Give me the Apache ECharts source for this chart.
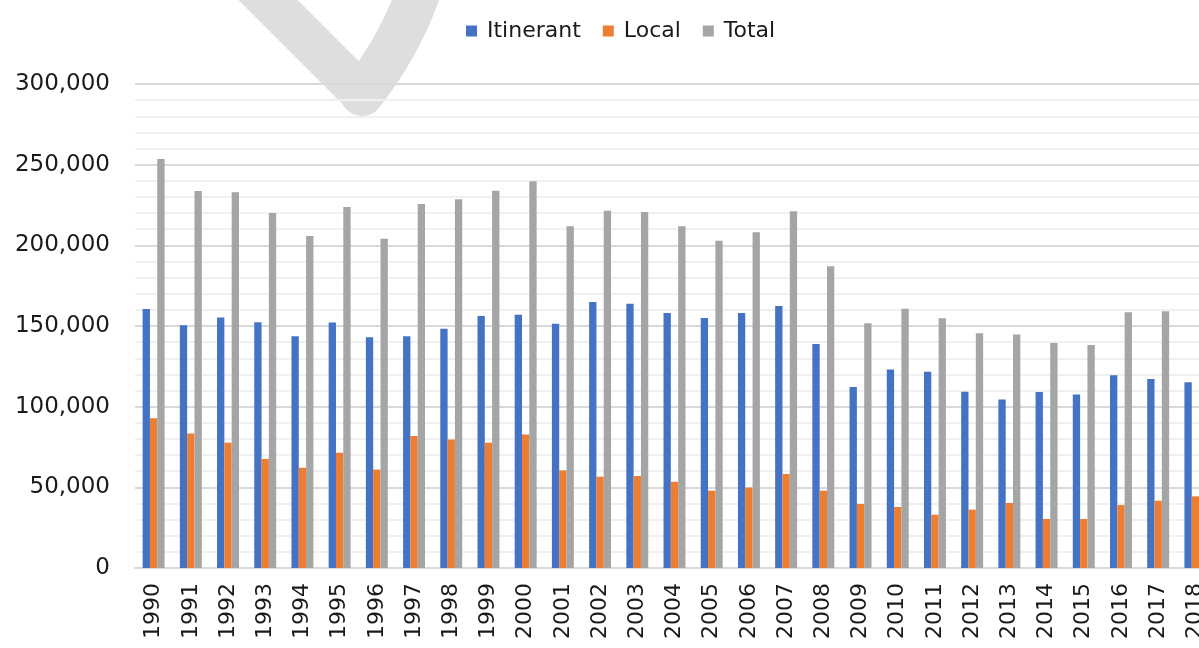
<!DOCTYPE html>
<html>
<head>
<meta charset="utf-8">
<title>Itinerant / Local / Total</title>
<script src="https://cdn.jsdelivr.net/npm/echarts@6/dist/echarts.min.js"></script>
<style>
  html, body { margin: 0; padding: 0; background: #fff; }
  #chart { width: 1199px; height: 648px; }
</style>
</head>
<body>
<div id="chart"></div>
<script>
// values
const years = ['1990', '1991', '1992', '1993', '1994', '1995', '1996', '1997', '1998', '1999',
  '2000', '2001', '2002', '2003', '2004', '2005', '2006', '2007', '2008', '2009',
  '2010', '2011', '2012', '2013', '2014', '2015', '2016', '2017', '2018'];
const itinerant = [160500, 150400, 155200, 152300, 143600, 152100, 143000, 143600, 148300, 156200,
  157000, 151400, 164900, 163800, 158100, 155000, 158100, 162400, 138800, 112200,
  123100, 121700, 109300, 104500, 109100, 107600, 119400, 117100, 115100];
const local = [92800, 83300, 77700, 67600, 62200, 71500, 61000, 81800, 79700, 77700,
  82800, 60500, 56600, 57000, 53500, 47900, 49800, 58300, 47900, 39700,
  37800, 33000, 36200, 40300, 30400, 30400, 39000, 41700, 44400];
const total = [253500, 233700, 232900, 220000, 205800, 223800, 204100, 225600, 228500, 233900,
  239700, 211800, 221500, 220700, 211800, 202900, 208100, 221100, 187000, 151700,
  160700, 154800, 145500, 144800, 139500, 138200, 158500, 159100, 159500];

const font = 'DejaVu Sans';
const txtColor = '#1a1a1a';

let myChart = echarts.init(document.getElementById('chart'));
myChart.setOption({
  animation: false,
  backgroundColor: '#fff',
  textStyle: { fontFamily: font },
  // grey mark in the top left corner
  graphic: [
    {
      type: 'line',
      z: 0,
      shape: { x1: 256, y1: -12, x2: 362, y2: 94 },
      style: { stroke: '#dedede', lineWidth: 42, lineCap: 'round' }
    },
    {
      type: 'bezierCurve',
      z: 0,
      shape: { x1: 362, y1: 94, x2: 420, y2: -12, cpx1: 401, cpy1: 44 },
      style: { stroke: '#dedede', lineWidth: 44, lineCap: 'round', fill: null }
    }
  ],
  legend: {
    left: 466,
    top: 20,
    padding: 0,
    itemWidth: 11,
    itemHeight: 11,
    itemGap: 22,
    icon: 'rect',
    textStyle: { fontSize: 22, color: txtColor, fontFamily: font, padding: [0, 0, 0, 5] },
    data: ['Itinerant', 'Local', 'Total']
  },
  grid: {
    left: 135,
    top: 84,
    height: 484,
    width: 1079,
    outerBoundsMode: 'none'
  },
  xAxis: {
    type: 'category',
    data: years,
    z: 1,
    axisLine: { lineStyle: { color: '#d9d9d9', width: 2 } },
    axisTick: { show: false },
    axisLabel: {
      rotate: 90,
      margin: 15,
      fontSize: 22,
      color: txtColor,
      fontFamily: font
    }
  },
  yAxis: {
    type: 'value',
    min: 0,
    max: 300000,
    interval: 50000,
    z: 1,
    axisLine: { show: false },
    axisTick: { show: false },
    minorTick: { show: false, splitNumber: 5 },
    splitLine: { lineStyle: { color: '#d9d9d9', width: 2 } },
    minorSplitLine: { show: true, lineStyle: { color: '#f0f0f0', width: 2 } },
    axisLabel: {
      margin: 25,
      fontSize: 23,
      color: txtColor,
      fontFamily: font,
      formatter: function (v) {
        return v.toLocaleString('en-US');
      }
    }
  },
  series: [
    {
      name: 'Itinerant',
      type: 'bar',
      barGap: '0%',
      barCategoryGap: '41%',
      itemStyle: { color: '#4472c4' },
      data: itinerant
    },
    {
      name: 'Local',
      type: 'bar',
      barGap: '0%',
      barCategoryGap: '41%',
      itemStyle: { color: '#ed7d31' },
      data: local
    },
    {
      name: 'Total',
      type: 'bar',
      barGap: '0%',
      barCategoryGap: '41%',
      itemStyle: { color: '#a5a5a5' },
      data: total
    }
  ]
});
window.addEventListener('resize', () => {
  myChart.resize();
});
</script>
</body>
</html>
